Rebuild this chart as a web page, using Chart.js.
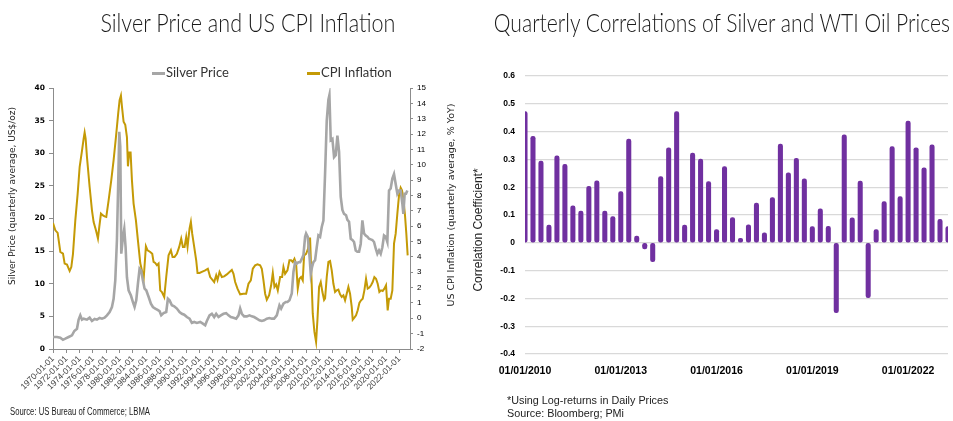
<!DOCTYPE html>
<html lang="en">
<head>
<meta charset="UTF-8">
<title>Silver Price, US CPI and Silver/WTI Correlations</title>
<script src="https://cdn.jsdelivr.net/npm/chart.js"></script>
<style>
  body { margin: 0; background: #fff; }
  #page { position: relative; width: 953px; height: 421px; overflow: hidden;
          font-family: "Liberation Sans", Arial, sans-serif; }
  canvas { position: absolute; top: 0; }
  .txt { position: absolute; white-space: nowrap; z-index: 2; }
  .title { top: 5px; font-family: Lato, "Liberation Sans", sans-serif; font-weight: 300;
           font-size: 26px; color: #1a1a1a; line-height: 34px; transform-origin: center; }
  .legend { top: 64px; font-family: Lato, "Liberation Sans", sans-serif; font-size: 13px; color: #333; line-height: 16px; }
  .legend i { display: inline-block; width: 13px; height: 3px; vertical-align: middle; margin-right: 1px; }
  .vtitle { height: 14px; line-height: 14px; text-align: center; transform: rotate(-90deg); color: #222; }
  .note { color: #222; line-height: 13px; }
</style>
</head>
<body>
<div id="page">
  <canvas id="silverChart" width="470" height="421" style="left:0"></canvas>
  <canvas id="corrChart" width="483" height="421" style="left:470px"></canvas>

  <div class="txt title" data-cx="248" data-w="295">Silver Price and US CPI Inflation</div>
  <div class="txt title" data-cx="722" data-w="456">Quarterly Correlations of Silver and WTI Oil Prices</div>

  <div class="txt legend" style="left:152px"><i style="background:#A6A6A6"></i>Silver Price</div>
  <div class="txt legend" style="left:307px"><i style="background:#C49A06"></i>CPI Inflation</div>

  <div class="txt vtitle" style="left:-136px;top:189px;width:300px;font:9px 'DejaVu Sans'">Silver Price (quarterly average, US$/oz)</div>
  <div class="txt vtitle" style="left:302px;top:198px;width:300px;font:9.5px 'DejaVu Sans'">US CPI Inflation (quarterly average, % YoY)</div>
  <div class="txt vtitle" style="left:328px;top:223px;width:300px;font:12px 'Liberation Sans'">Correlation Coefficient*</div>

  <div class="txt note" style="left:10px;top:405px;font-size:10px;transform:scaleX(0.77);transform-origin:left">Source: US Bureau of Commerce; LBMA</div>
  <div class="txt note" style="left:507px;top:394px;font-size:10.8px">*Using Log-returns in Daily Prices<br>Source: Bloomberg; PMi</div>
</div>

<script>
// Left chart: quarterly silver price (US$/oz) and US CPI inflation (% YoY)
const silverYears = [1970.0, 1970.6, 1971.1, 1971.5, 1971.85, 1972.35, 1972.85, 1973.2, 1973.6, 1973.85,
  1974.1, 1974.35, 1974.6, 1975.1, 1975.5, 1975.85, 1976.25, 1976.6, 1977.0, 1977.35,
  1977.75, 1978.1, 1978.5, 1978.85, 1979.1, 1979.35, 1979.6, 1979.8, 1979.95, 1980.1,
  1980.25, 1980.5, 1980.7, 1980.9, 1981.1, 1981.35, 1981.7, 1982.0, 1982.25, 1982.5,
  1982.75, 1983.0, 1983.25, 1983.5, 1983.75, 1984.0, 1984.35, 1984.7, 1985.0, 1985.35,
  1985.7, 1986.0, 1986.25, 1986.6, 1987.0, 1987.25, 1987.5, 1987.85, 1988.2, 1988.6,
  1989.0, 1989.35, 1989.7, 1990.1, 1990.5, 1990.85, 1991.2, 1991.6, 1992.1, 1992.5,
  1992.85, 1993.1, 1993.5, 1993.85, 1994.2, 1994.5, 1994.85, 1995.2, 1995.6, 1996.0,
  1996.35, 1996.7, 1997.1, 1997.5, 1997.85, 1998.1, 1998.35, 1998.7, 1999.1, 1999.5,
  1999.85, 2000.2, 2000.6, 2001.0, 2001.35, 2001.7, 2002.1, 2002.5, 2002.85, 2003.2,
  2003.6, 2004.0, 2004.25, 2004.6, 2004.95, 2005.2, 2005.5, 2005.85, 2006.1, 2006.35,
  2006.6, 2006.85, 2007.1, 2007.35, 2007.6, 2007.85, 2008.0, 2008.25, 2008.5, 2008.7,
  2008.9, 2009.1, 2009.35, 2009.6, 2009.85, 2010.1, 2010.35, 2010.6, 2010.85, 2011.1,
  2011.35, 2011.5, 2011.7, 2011.95, 2012.2, 2012.45, 2012.7, 2012.95, 2013.2, 2013.45,
  2013.7, 2014.0, 2014.2, 2014.45, 2014.7, 2014.95, 2015.2, 2015.45, 2015.7, 2015.95,
  2016.2, 2016.45, 2016.7, 2016.95, 2017.2, 2017.45, 2017.7, 2017.95, 2018.2, 2018.45,
  2018.7, 2018.95, 2019.2, 2019.45, 2019.7, 2019.95, 2020.2, 2020.45, 2020.7, 2020.95,
  2021.2, 2021.45, 2021.7, 2021.95, 2022.2, 2022.45, 2022.6, 2022.8, 2023.0, 2023.2];
const silverPrice = [1.84, 1.84, 1.74, 1.43, 1.58, 1.84, 2.1, 2.76, 3.1, 4.5,
  5.16, 4.5, 4.65, 4.5, 4.8, 4.3, 4.6, 4.5, 4.75, 4.65,
  4.8, 5.16, 5.67, 6.44, 7.7, 10.5, 16.7, 25.9, 33.3, 31.0,
  14.6, 17.2, 18.4, 15.6, 11.0, 9.0, 8.2, 7.2, 6.44, 7.46,
  10.0, 12.3, 12.0, 10.5, 9.25, 9.0, 8.0, 6.95, 6.44, 6.2,
  6.0, 5.8, 5.16, 5.5, 5.67, 7.7, 7.46, 6.7, 6.54, 6.2,
  5.67, 5.4, 5.26, 4.9, 4.65, 4.0, 4.14, 4.0, 4.14, 3.88,
  3.63, 4.3, 5.16, 5.4, 4.9, 5.4, 4.9, 5.16, 5.4, 5.5,
  5.16, 4.9, 4.8, 4.65, 5.16, 6.2, 5.4, 5.0, 5.0, 5.16,
  5.0, 4.9, 4.65, 4.4, 4.3, 4.4, 4.65, 4.75, 4.65, 4.65,
  5.16, 6.7, 6.2, 6.95, 7.2, 7.2, 7.46, 8.5, 11.8, 13.3,
  13.1, 13.3, 13.3, 13.8, 14.4, 17.2, 17.7, 17.2, 14.4, 11.5,
  12.6, 13.3, 13.6, 15.6, 17.4, 17.2, 18.7, 19.7, 26.9, 35.0,
  38.2, 38.9, 32.0, 32.2, 29.4, 29.7, 32.7, 30.2, 23.3, 21.3,
  20.7, 20.5, 19.8, 19.5, 16.9, 16.7, 16.4, 15.1, 14.9, 14.9,
  16.1, 19.7, 17.7, 17.4, 17.2, 16.9, 16.8, 16.7, 16.4, 15.4,
  14.6, 15.1, 14.6, 15.6, 17.4, 17.2, 16.4, 24.3, 24.6, 26.1,
  26.8, 25.3, 23.8, 24.3, 24.3, 22.3, 20.7, 23.8, 23.8, 24.3];

const cpiYears = [1970.0, 1970.35, 1970.7, 1971.1, 1971.5, 1971.75, 1972.1, 1972.5, 1972.75, 1973.0,
  1973.35, 1973.7, 1974.0, 1974.35, 1974.6, 1974.75, 1974.9, 1975.1, 1975.5, 1975.85,
  1976.1, 1976.45, 1976.75, 1976.95, 1977.2, 1977.5, 1977.75, 1978.0, 1978.35, 1978.75,
  1979.1, 1979.45, 1979.8, 1980.0, 1980.2, 1980.35, 1980.6, 1980.85, 1981.1, 1981.25,
  1981.45, 1981.65, 1981.85, 1982.1, 1982.45, 1982.75, 1983.1, 1983.35, 1983.6, 1983.95,
  1984.2, 1984.6, 1984.9, 1985.1, 1985.35, 1985.6, 1985.85, 1986.1, 1986.35, 1986.7,
  1987.0, 1987.35, 1987.7, 1987.95, 1988.25, 1988.6, 1988.95, 1989.25, 1989.5, 1989.75,
  1990.0, 1990.2, 1990.5, 1990.7, 1990.9, 1991.2, 1991.5, 1991.7, 1992.0, 1992.35,
  1992.85, 1993.25, 1993.6, 1994.0, 1994.2, 1994.5, 1994.7, 1995.0, 1995.35, 1995.7,
  1996.1, 1996.5, 1996.85, 1997.1, 1997.35, 1997.7, 1998.1, 1998.6, 1999.0, 1999.35,
  1999.7, 2000.0, 2000.35, 2000.7, 2001.1, 2001.35, 2001.6, 2001.85, 2002.1, 2002.45,
  2002.75, 2003.0, 2003.25, 2003.5, 2003.75, 2004.1, 2004.4, 2004.6, 2004.85, 2005.2,
  2005.5, 2005.75, 2006.0, 2006.25, 2006.5, 2006.75, 2007.0, 2007.25, 2007.5, 2007.7,
  2008.0, 2008.3, 2008.45, 2008.6, 2008.75, 2009.0, 2009.25, 2009.5, 2009.7, 2009.95,
  2010.2, 2010.45, 2010.7, 2010.85, 2011.1, 2011.35, 2011.6, 2011.85, 2012.1, 2012.35,
  2012.6, 2012.85, 2013.1, 2013.35, 2013.6, 2013.85, 2014.1, 2014.35, 2014.6, 2014.85,
  2015.0, 2015.25, 2015.5, 2015.75, 2016.0, 2016.25, 2016.5, 2016.75, 2017.0, 2017.25,
  2017.5, 2017.75, 2018.0, 2018.25, 2018.5, 2018.75, 2019.0, 2019.25, 2019.5, 2019.75,
  2020.0, 2020.25, 2020.45, 2020.7, 2020.95, 2021.2, 2021.45, 2021.7, 2021.95, 2022.2,
  2022.4, 2022.6, 2022.85, 2023.05, 2023.25];
const cpiRate = [6.2, 5.73, 5.56, 4.32, 4.21, 3.56, 3.5, 3.08, 3.34, 4.2,
  6.38, 8.1, 9.85, 10.9, 11.7, 12.1, 11.7, 10.5, 8.55, 7.03,
  6.27, 5.73, 5.19, 5.95, 6.82, 6.7, 6.64, 6.6, 7.68, 9.0,
  10.3, 11.8, 13.4, 14.2, 14.5, 13.8, 12.8, 12.6, 11.8, 9.9,
  10.8, 10.8, 9.0, 7.47, 6.38, 5.08, 3.6, 3.12, 2.5, 4.69,
  4.43, 4.32, 4.2, 3.67, 3.6, 3.45, 3.56, 1.82, 1.71, 1.39,
  2.69, 4.1, 4.43, 4.0, 4.0, 4.2, 4.65, 5.19, 4.65, 4.65,
  5.3, 4.65, 5.84, 6.27, 5.51, 4.65, 3.78, 2.95, 2.95, 3.02,
  3.12, 3.23, 2.69, 2.47, 2.36, 2.8, 2.5, 3.02, 2.69, 2.73,
  2.86, 3.02, 3.15, 2.9, 2.36, 1.93, 1.56, 1.6, 1.6, 2.25,
  2.47, 3.23, 3.45, 3.52, 3.45, 3.23, 2.47, 1.6, 1.21, 1.5,
  2.15, 2.95, 2.04, 2.21, 1.82, 2.69, 2.69, 3.34, 2.9, 3.12,
  3.78, 3.78, 3.67, 3.88, 3.56, 1.93, 2.58, 2.69, 2.47, 4.1,
  4.2, 4.54, 5.19, 5.19, 3.34, 0.3, -0.89, -1.54, -0.13, 2.04,
  2.36, 1.71, 1.2, 1.3, 2.69, 3.67, 3.73, 3.12, 2.25, 1.71,
  1.82, 1.87, 1.56, 1.39, 1.5, 1.17, 1.6, 2.04, 1.6, 0.74,
  -0.09, 0.04, 0.19, 0.52, 1.0, 1.17, 1.28, 1.82, 2.58, 1.93,
  2.0, 2.15, 2.36, 2.69, 2.58, 2.25, 1.71, 1.82, 1.78, 1.93,
  2.15, 0.52, 1.28, 1.28, 1.82, 4.86, 5.51, 6.82, 8.0, 8.5,
  8.33, 7.8, 6.7, 5.51, 4.1];

const xTickYears = [1970, 1972, 1974, 1976, 1978, 1980, 1982, 1984, 1986, 1988, 1990, 1992, 1994,
  1996, 1998, 2000, 2002, 2004, 2006, 2008, 2010, 2012, 2014, 2016, 2018, 2020, 2022];

// Right chart: quarterly correlation of silver and WTI log-returns, Q1 2010 onwards
const corrValues = [0.472, 0.383, 0.294, 0.064, 0.313, 0.282, 0.133, 0.114, 0.203, 0.223,
  0.114, 0.094, 0.184, 0.373, 0.024, -0.022, -0.068, 0.238, 0.342, 0.472,
  0.064, 0.323, 0.301, 0.22, 0.048, 0.274, 0.091, 0.016, 0.065, 0.143,
  0.036, 0.163, 0.355, 0.252, 0.304, 0.230, 0.058, 0.122, 0.059, -0.251,
  0.388, 0.090, 0.222, -0.197, 0.048, 0.148, 0.346, 0.166, 0.438, 0.342,
  0.270, 0.352, 0.084, 0.058];
const corrTickLabels = ['01/01/2010', '01/01/2013', '01/01/2016', '01/01/2019', '01/01/2022'];

const corrQuarters = [];
for (let y = 2010; corrQuarters.length < corrValues.length; y++) {
  ['01', '04', '07', '10'].forEach(m => {
    if (corrQuarters.length < corrValues.length) corrQuarters.push('01/' + m + '/' + y);
  });
}

// squeeze the light titles to the narrow width they have in the original
document.querySelectorAll('.title').forEach(el => {
  const w = el.getBoundingClientRect().width;
  const target = +el.dataset.w;
  el.style.left = (+el.dataset.cx - w / 2) + 'px';
  el.style.transform = 'scaleX(' + (target / w).toFixed(3) + ')';
});

const axisGrey = '#8C8C8C';

new Chart(document.getElementById('silverChart'), {
  type: 'line',
  data: {
    datasets: [
      {
        label: 'Silver Price',
        data: silverYears.map((x, i) => ({ x: x, y: silverPrice[i] })),
        borderColor: '#A6A6A6',
        borderWidth: 2.6,
        pointRadius: 0,
        yAxisID: 'y'
      },
      {
        label: 'CPI Inflation',
        data: cpiYears.map((x, i) => ({ x: x, y: cpiRate[i] })),
        borderColor: '#C49A06',
        borderWidth: 2,
        pointRadius: 0,
        yAxisID: 'y1'
      }
    ]
  },
  options: {
    responsive: false,
    animation: false,
    layout: { padding: { top: 88, left: 0, right: 0, bottom: 0 } },
    plugins: { legend: { display: false }, tooltip: { enabled: false } },
    scales: {
      x: {
        type: 'linear',
        min: 1970,
        max: 2023.6,
        afterBuildTicks: s => { s.ticks = xTickYears.map(v => ({ value: v })); },
        afterFit: s => { s.height = 72; },
        ticks: {
          autoSkip: false,
          minRotation: 45,
          maxRotation: 45,
          padding: 1,
          color: '#404040',
          font: { family: 'Liberation Sans', size: 8.5 },
          callback: v => v + '-01-01'
        },
        grid: { drawOnChartArea: false, tickLength: 4, color: axisGrey },
        border: { color: axisGrey }
      },
      y: {
        position: 'left',
        min: 0,
        max: 40,
        afterFit: s => { s.width = 53; },
        ticks: { stepSize: 5, padding: 4, color: '#000', font: { family: 'DejaVu Sans', size: 7.5, weight: 'bold' } },
        grid: { drawOnChartArea: false, tickLength: 4, color: axisGrey },
        border: { color: axisGrey }
      },
      y1: {
        position: 'right',
        min: -2,
        max: 15,
        afterFit: s => { s.width = 60; },
        ticks: { stepSize: 1, padding: 4, color: '#000', font: { family: 'Liberation Sans', size: 8 } },
        grid: { drawOnChartArea: false, tickLength: 3, color: axisGrey },
        border: { color: axisGrey }
      }
    }
  }
});

new Chart(document.getElementById('corrChart'), {
  type: 'bar',
  data: {
    labels: corrQuarters,
    datasets: [{
      data: corrValues,
      backgroundColor: '#7030A0',
      barThickness: 4.4,
      borderRadius: 2.2,
      borderSkipped: false
    }]
  },
  options: {
    responsive: false,
    animation: false,
    layout: { padding: { top: 76, right: 5, left: 0, bottom: 0 } },
    plugins: { legend: { display: false }, tooltip: { enabled: false } },
    scales: {
      x: {
        offset: false,
        afterBuildTicks: s => { s.ticks = s.ticks.filter(t => corrTickLabels.includes(corrQuarters[t.value])); },
        afterFit: s => { s.height = 67; },
        ticks: { autoSkip: false, maxRotation: 0, padding: 3, color: '#000',
                 font: { family: 'Liberation Sans', size: 10.5, weight: 'bold' } },
        grid: { display: false },
        border: { display: false }
      },
      y: {
        min: -0.4,
        max: 0.6,
        afterFit: s => { s.width = 55; },
        ticks: { stepSize: 0.1, padding: 10, color: '#000',
                 font: { family: 'Liberation Sans', size: 8.5, weight: 'bold' },
                 callback: v => String(Math.round(v * 10) / 10) },
        grid: { color: '#D9D9D9', lineWidth: 1.2, drawTicks: false },
        border: { display: false }
      }
    }
  }
});
</script>
</body>
</html>
